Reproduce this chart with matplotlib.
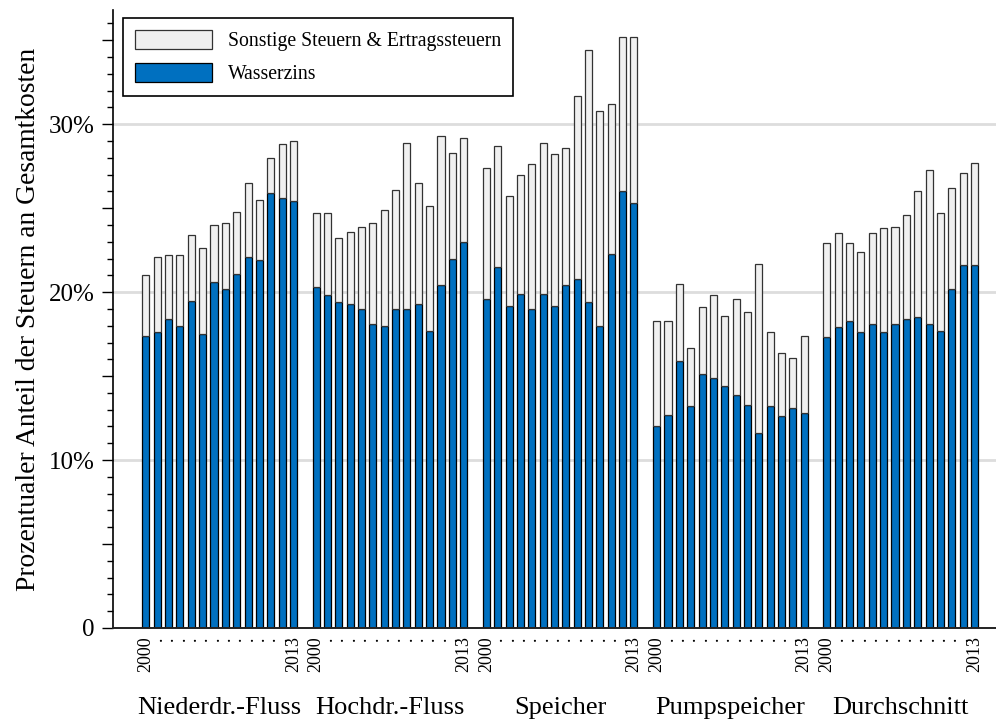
import numpy as np
import matplotlib
matplotlib.use('Agg')
import matplotlib.pyplot as plt
from matplotlib.ticker import FuncFormatter
from matplotlib.patches import Patch

plt.rcParams['font.family'] = ['Liberation Serif', 'DejaVu Serif']

# categories and years
groups = ['Niederdr.-Fluss', 'Hochdr.-Fluss', 'Speicher', 'Pumpspeicher', 'Durchschnitt']
years = list(range(2000, 2014))

# Wasserzins in % of total cost, 2000..2013
wz_niederdruck = [17.4, 17.6, 18.4, 18.0, 19.5, 17.5, 20.6, 20.2, 21.1, 22.1, 21.9, 25.9, 25.6, 25.4]
wz_hochdruck = [20.3, 19.8, 19.4, 19.3, 19.0, 18.1, 18.0, 19.0, 19.0, 19.3, 17.7, 20.4, 22.0, 23.0]
wz_speicher = [19.6, 21.5, 19.2, 19.9, 19.0, 19.9, 19.2, 20.4, 20.8, 19.4, 18.0, 22.3, 26.0, 25.3]
wz_pumpspeicher = [12.0, 12.7, 15.9, 13.2, 15.1, 14.9, 14.4, 13.9, 13.3, 11.6, 13.2, 12.6, 13.1, 12.8]
wz_durchschnitt = [17.3, 17.9, 18.3, 17.6, 18.1, 17.6, 18.1, 18.4, 18.5, 18.1, 17.7, 20.2, 21.6, 21.6]

# Sonstige Steuern & Ertragssteuern in % of total cost
st_niederdruck = [3.6, 4.5, 3.8, 4.2, 3.9, 5.1, 3.4, 3.9, 3.7, 4.4, 3.6, 2.1, 3.2, 3.6]
st_hochdruck = [4.4, 4.9, 3.8, 4.3, 4.9, 6.0, 6.9, 7.1, 9.9, 7.2, 7.4, 8.9, 6.3, 6.2]
st_speicher = [7.8, 7.2, 6.5, 7.1, 8.6, 9.0, 9.0, 8.2, 10.9, 15.0, 12.8, 8.9, 9.2, 9.9]
st_pumpspeicher = [6.3, 5.6, 4.6, 3.5, 4.0, 4.9, 4.2, 5.7, 5.5, 10.1, 4.4, 3.8, 3.0, 4.6]
st_durchschnitt = [5.6, 5.6, 4.6, 4.8, 5.4, 6.2, 5.8, 6.2, 7.5, 9.2, 7.0, 6.0, 5.5, 6.1]

wasserzins = [wz_niederdruck, wz_hochdruck, wz_speicher, wz_pumpspeicher, wz_durchschnitt]
sonstige = [st_niederdruck, st_hochdruck, st_speicher, st_pumpspeicher, st_durchschnitt]

blue = '#0070c0'
grey = '#f0f0f0'

fig = plt.figure(figsize=(9.96, 7.24), dpi=100)
ax = fig.add_axes([113 / 996, 1 - 628 / 724, 1 - 113 / 996, 618 / 724])

# one empty slot between the groups
step = len(years) + 1
xpos = []
xlabels = []
for g, name in enumerate(groups):
	x = g * step + np.arange(len(years))
	ax.bar(x, wasserzins[g], width=0.62, color=blue, edgecolor='black', linewidth=0.9, zorder=2)
	ax.bar(x, sonstige[g], bottom=wasserzins[g], width=0.62, color=grey,
		edgecolor='#333333', linewidth=0.9, zorder=2)
	xpos.extend(x)
	xlabels.extend([str(years[0])] + ['.'] * (len(years) - 2) + [str(years[-1])])
	ax.text(g * step + (len(years) - 1) / 2, -0.13, name, transform=ax.get_xaxis_transform(),
		ha='center', va='center', fontsize=19)

ax.set_xlim(-2.9, 74.9)
ax.set_ylim(0, 36.8)

ax.set_xticks(xpos)
ax.set_xticklabels(xlabels, rotation=90, fontsize=13)
ax.tick_params(axis='x', length=0, pad=6)

# major ticks every 5 %, labels only every 10 %, minor every 1 %
ax.set_yticks(np.arange(0, 36, 5))
ax.set_yticks([v for v in range(0, 37) if v % 5 != 0], minor=True)


def pct(v, pos):
	if v == 0:
		return '0'
	if round(v) % 10 == 0:
		return f'{int(round(v))}%'
	return ''


ax.yaxis.set_major_formatter(FuncFormatter(pct))
ax.tick_params(axis='y', which='major', length=8, width=1, labelsize=18, pad=5, direction='out')
ax.tick_params(axis='y', which='minor', left=True, length=4, width=1, direction='out')

for v in [10, 20, 30]:
	ax.axhline(v, color='#dddddd', linewidth=2, zorder=0)

for side in ['top', 'right']:
	ax.spines[side].set_visible(False)
ax.spines['left'].set_linewidth(1.2)
ax.spines['bottom'].set_linewidth(1.4)
ax.spines['bottom'].set_color('#222222')

ax.set_ylabel('Prozentualer Anteil der Steuern an Gesamtkosten', fontsize=19.8, labelpad=6)

handles = [Patch(facecolor=grey, edgecolor='#333333', linewidth=0.9, label='Sonstige Steuern & Ertragssteuern'),
	Patch(facecolor=blue, edgecolor='black', linewidth=0.9, label='Wasserzins')]
leg = ax.legend(handles=handles, loc='upper left', bbox_to_anchor=(10 / 883, 1 - 8 / 618), borderaxespad=0,
	fontsize=14.2, handlelength=3.9, handleheight=1.1, handletextpad=0.8, labelspacing=0.6,
	borderpad=0.6, fancybox=False, framealpha=1, edgecolor='black')
leg.get_frame().set_linewidth(1.2)

fig.savefig('out.png', dpi=100)
